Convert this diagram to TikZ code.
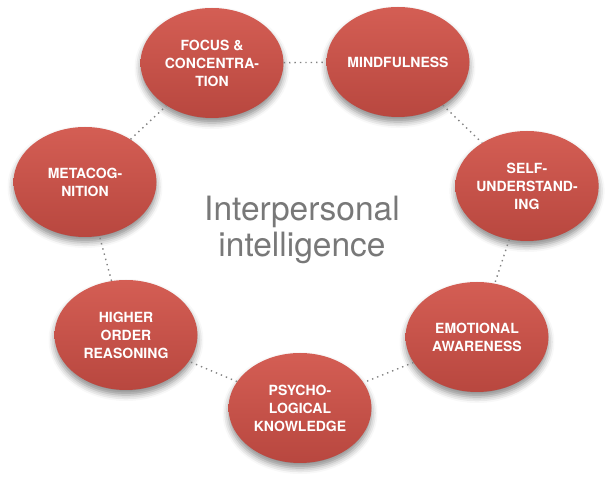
\documentclass[tikz,border=0pt]{standalone}
\usepackage{fontspec}
\setmainfont{TeX Gyre Heros}
\usetikzlibrary{shapes.geometric,shadows.blur}
\definecolor{redtop}{RGB}{212,94,84}
\definecolor{redbot}{RGB}{184,71,63}
\definecolor{linkgray}{RGB}{130,130,130}
\definecolor{titlegray}{RGB}{120,120,120}
\tikzset{
  bubble/.style={ellipse, minimum width=143pt, minimum height=110pt, inner sep=0pt,
    top color=redtop, bottom color=redbot, draw=none,
    blur shadow={shadow xshift=0pt, shadow yshift=-5pt, shadow blur radius=6pt, shadow opacity=45},
    text=white, font=\fontsize{14}{18}\selectfont\bfseries, align=center},
  link/.style={draw=linkgray, line width=1.4pt, dash pattern=on 1.4pt off 4pt}
}
\begin{document}
\begin{tikzpicture}[x=1pt,y=-1pt]
\useasboundingbox (0,0) rectangle (606,478);
\node[bubble] (focus) at (212,63) {FOCUS \&\\CONCENTRA-\\TION};
\node[bubble] (mind) at (398,62) {MINDFULNESS};
\node[bubble] (self) at (527,186) {SELF-\\UNDERSTAND-\\ING};
\node[bubble] (emo) at (477,337) {EMOTIONAL\\AWARENESS};
\node[bubble] (psy) at (300,408) {PSYCHO-\\LOGICAL\\KNOWLEDGE};
\node[bubble] (high) at (126,335) {HIGHER\\ORDER\\REASONING};
\node[bubble] (meta) at (85,182) {METACOG-\\NITION};
\draw[link] (focus) -- (mind);
\draw[link] (mind) -- (self);
\draw[link] (self) -- (emo);
\draw[link] (emo) -- (psy);
\draw[link] (psy) -- (high);
\draw[link] (high) -- (meta);
\draw[link] (meta) -- (focus);
\node[text=titlegray, font=\fontsize{33.5}{36}\selectfont, align=center] (title) at (302,230) {Interpersonal\\intelligence};
\end{tikzpicture}
\end{document}
